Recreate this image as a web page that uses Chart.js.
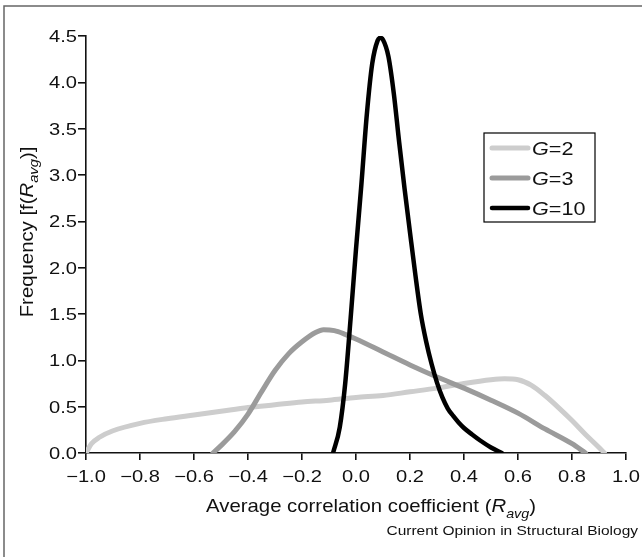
<!DOCTYPE html>
<html>
<head>
<meta charset="utf-8">
<script src="https://cdn.jsdelivr.net/npm/chart.js@4"></script>
<style>
  html, body { margin: 0; padding: 0; background: #fff; }
  #wrap { width: 642px; height: 557px; }
</style>
</head>
<body>
<div id="wrap"><canvas id="chart" width="642" height="557"></canvas></div>
<script>
// values
const seriesLabels = ["G=2", "G=3", "G=10"];

const g2X = [-1.0, -0.98, -0.95, -0.9, -0.8, -0.7, -0.6, -0.5, -0.4, -0.3, -0.2, -0.1, 0.0, 0.1, 0.2, 0.3, 0.4, 0.5, 0.55, 0.6, 0.65, 0.7, 0.75, 0.8, 0.85, 0.9, 0.92];
const g2Y = [0, 0.10, 0.17, 0.24, 0.32, 0.37, 0.41, 0.45, 0.49, 0.52, 0.55, 0.57, 0.60, 0.62, 0.66, 0.70, 0.75, 0.79, 0.80, 0.79, 0.73, 0.62, 0.49, 0.35, 0.20, 0.06, 0];

const g3X = [-0.53, -0.5, -0.45, -0.4, -0.35, -0.3, -0.25, -0.2, -0.15, -0.12, -0.08, -0.04, 0.0, 0.1, 0.2, 0.3, 0.4, 0.5, 0.6, 0.7, 0.8, 0.85];
const g3Y = [0, 0.08, 0.23, 0.42, 0.66, 0.89, 1.07, 1.20, 1.30, 1.33, 1.32, 1.28, 1.23, 1.09, 0.95, 0.82, 0.70, 0.57, 0.43, 0.26, 0.10, 0];

const g10X = [-0.085, -0.06, -0.04, -0.02, 0.0, 0.02, 0.04, 0.06, 0.08, 0.09, 0.10, 0.12, 0.14, 0.16, 0.18, 0.20, 0.22, 0.24, 0.26, 0.28, 0.30, 0.32, 0.34, 0.36, 0.38, 0.40, 0.43, 0.46, 0.50, 0.54];
const g10Y = [0, 0.28, 0.75, 1.45, 2.2, 2.9, 3.65, 4.2, 4.45, 4.48, 4.46, 4.28, 3.88, 3.35, 2.85, 2.38, 1.92, 1.50, 1.20, 0.96, 0.76, 0.60, 0.48, 0.40, 0.33, 0.27, 0.20, 0.135, 0.06, 0];

const xTicksMin = -1.0, xTicksMax = 1.0, xStep = 0.2;
const yTicksMin = 0, yTicksMax = 4.5, yStep = 0.5;

const FONT = '"Liberation Sans", Arial, Helvetica, sans-serif';
const INK = "#111";

const toPoints = (xs, ys) => xs.map((x, i) => ({ x: x, y: ys[i] }));
const fmt = (v) => {
  const s = Math.abs(v) < 1e-9 ? "0.0" : Math.abs(v).toFixed(1);
  return v < -1e-9 ? "\u2212" + s : s;
};

// draws [text, style] pieces (n normal, i italic, s italic subscript), stretched by sx along the text
function drawPieces(ctx, pieces, x, y, size, align, sx) {
  const fontOf = (st) => st === "n" ? `${size}px ${FONT}` : st === "i" ? `italic ${size}px ${FONT}` : `italic ${Math.round(size * 0.72)}px ${FONT}`;
  let total = 0;
  pieces.forEach(p => { ctx.font = fontOf(p[1]); total += ctx.measureText(p[0]).width; });
  total *= sx;
  let x0 = x;
  if (align === "center") x0 = x - total / 2;
  if (align === "right") x0 = x - total;
  ctx.save();
  ctx.translate(x0, y);
  ctx.scale(sx, 1);
  let cx = 0;
  pieces.forEach(p => {
    ctx.font = fontOf(p[1]);
    ctx.fillText(p[0], cx, p[1] === "s" ? size * 0.3 : 0);
    cx += ctx.measureText(p[0]).width;
  });
  ctx.restore();
}

const decorPlugin = {
  id: "decor",
  afterDraw(chart) {
    const ctx = chart.ctx;
    const area = chart.chartArea;
    const xs = chart.scales.x, ys = chart.scales.y;
    ctx.save();

    // figure frame (top and left edges only, as cropped in the source)
    ctx.strokeStyle = "#666";
    ctx.lineWidth = 1.5;
    ctx.beginPath();
    ctx.moveTo(642, 6);
    ctx.lineTo(4, 6);
    ctx.lineTo(4, 557);
    ctx.stroke();

    ctx.fillStyle = INK;
    ctx.textBaseline = "alphabetic";
    ctx.textAlign = "left";

    // tick labels, placed from the scales' own ticks
    xs.ticks.forEach(t => {
      drawPieces(ctx, [[fmt(t.value), "n"]], xs.getPixelForValue(t.value), area.bottom + 29, 16.5, "center", 1.22);
    });
    ys.ticks.forEach(t => {
      drawPieces(ctx, [[fmt(t.value), "n"]], area.left - 9, ys.getPixelForValue(t.value) + 6, 16.5, "right", 1.22);
    });

    // x axis title
    drawPieces(ctx, [["Average correlation coefficient (", "n"], ["R", "i"], ["avg", "s"], [")", "n"]],
      371, 512, 18.5, "center", 1.1);

    // y axis title
    ctx.save();
    ctx.translate(33, 232);
    ctx.rotate(-Math.PI / 2);
    drawPieces(ctx, [["Frequency [f(", "n"], ["R", "i"], ["avg", "s"], [")]", "n"]], 0, 0, 18, "center", 1.13);
    ctx.restore();

    // source line
    drawPieces(ctx, [["Current Opinion in Structural Biology", "n"]], 638, 535, 12.5, "right", 1.24);

    // legend box
    const bx = 484, by = 133, bw = 111, bh = 89;
    ctx.fillStyle = "#fff";
    ctx.fillRect(bx, by, bw, bh);
    ctx.strokeStyle = "#000";
    ctx.lineWidth = 1.2;
    ctx.strokeRect(bx, by, bw, bh);
    chart.data.datasets.forEach((ds, i) => {
      const ly = 148 + i * 30;
      ctx.strokeStyle = ds.borderColor;
      ctx.lineWidth = ds.borderWidth;
      ctx.lineCap = "round";
      ctx.beginPath();
      ctx.moveTo(492, ly);
      ctx.lineTo(528, ly);
      ctx.stroke();
      const parts = ds.label.split("=");
      ctx.fillStyle = INK;
      drawPieces(ctx, [[parts[0], "i"], ["=" + parts[1], "n"]], 532, ly + 7, 18, "left", 1.2);
    });
    ctx.restore();
  }
};

new Chart(document.getElementById("chart"), {
  type: "line",
  data: {
    datasets: [
      {
        label: seriesLabels[0],
        data: toPoints(g2X, g2Y),
        borderColor: "#cdcdcd",
        borderWidth: 5,
        order: 3
      },
      {
        label: seriesLabels[1],
        data: toPoints(g3X, g3Y),
        borderColor: "#9b9b9b",
        borderWidth: 5,
        order: 2
      },
      {
        label: seriesLabels[2],
        data: toPoints(g10X, g10Y),
        borderColor: "#000",
        borderWidth: 4.5,
        order: 1
      }
    ]
  },
  options: {
    responsive: false,
    animation: false,
    layout: { padding: { top: 36, right: 16, left: 0, bottom: 0 } },
    elements: {
      point: { radius: 0 },
      line: { cubicInterpolationMode: "monotone", borderCapStyle: "round", fill: false }
    },
    plugins: {
      legend: { display: false },
      tooltip: { enabled: false },
      title: { display: false }
    },
    scales: {
      x: {
        type: "linear",
        min: xTicksMin,
        max: xTicksMax,
        afterFit: (scale) => { scale.height = 104; },
        border: { display: true, color: INK, width: 1.6 },
        grid: { drawOnChartArea: false, drawTicks: true, tickLength: 7, tickColor: INK, lineWidth: 1.6 },
        ticks: { stepSize: xStep, display: false, autoSkip: false }
      },
      y: {
        min: yTicksMin,
        max: yTicksMax,
        afterFit: (scale) => { scale.width = 86; },
        border: { display: true, color: INK, width: 1.6 },
        grid: { drawOnChartArea: false, drawTicks: true, tickLength: 8, tickColor: INK, lineWidth: 1.6 },
        ticks: { stepSize: yStep, display: false, autoSkip: false }
      }
    }
  },
  plugins: [decorPlugin]
});
</script>
</body>
</html>
